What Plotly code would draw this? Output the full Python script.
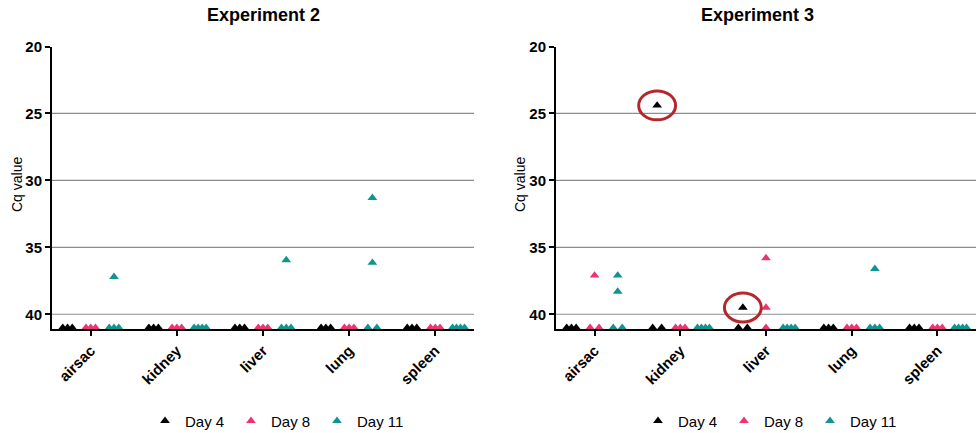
import plotly.graph_objects as go

# ---------------- data ----------------
tissues = ["airsac", "kidney", "liver", "lung", "spleen"]
days = ["Day 4", "Day 8", "Day 11"]

# Experiment 2 (non-detected samples plotted at 41)
exp2_day4 = [[41, 41, 41], [41, 41, 41], [41, 41, 41], [41, 41, 41], [41, 41, 41]]
exp2_day8 = [[41, 41, 41], [41, 41, 41], [41, 41, 41], [41, 41, 41], [41, 41, 41]]
exp2_day11 = [[37.2, 41, 41, 41], [41, 41, 41, 41], [35.95, 41, 41, 41],
              [31.3, 36.15, 41, 41], [41, 41, 41, 41]]

# Experiment 3
exp3_day4 = [[41, 41, 41], [24.4, 41, 41], [39.5, 41, 41], [41, 41, 41], [41, 41, 41]]
exp3_day8 = [[37.1, 41, 41], [41, 41, 41], [35.8, 39.5, 41], [41, 41, 41], [41, 41, 41]]
exp3_day11 = [[37.1, 38.3, 41, 41], [41, 41, 41, 41], [41, 41, 41, 41],
              [36.6, 41, 41, 41], [41, 41, 41, 41]]

y_ticks = [20, 25, 30, 35, 40]
grid_vals = [25, 30, 35, 40]

# highlighted points in Experiment 3: (tissue index, day index, value)
highlights = [(1, 0, 24.4), (2, 0, 39.5)]

# ---------------- style ----------------
colors = ["#000000", "#EC3475", "#0E958F"]
FONT = "Liberation Sans"
W, H = 978, 433
PX_PER_UNIT = 86.0
day_offset = [-0.27, 0.0, 0.27]
spread_px = {1: 0, 2: 9, 3: 9.5, 4: 12}

x_dom = [[52 / W, 474 / W], [556 / W, 976 / W]]
y_dom = [1 - 329 / H, 1 - 46.5 / H]


def positions(values, center):
    xs = []
    groups = {}
    for v in values:
        groups.setdefault(v, 0)
        groups[v] += 1
    seen = {}
    for v in values:
        n = groups[v]
        k = seen.get(v, 0)
        seen[v] = k + 1
        width = spread_px.get(n, 12) / PX_PER_UNIT
        off = 0 if n == 1 else -width / 2 + k * width / (n - 1)
        xs.append(center + off)
    return xs


fig = go.Figure()
experiments = [(exp2_day4, exp2_day8, exp2_day11), (exp3_day4, exp3_day8, exp3_day11)]
for p, exp in enumerate(experiments):
    xa = "x" if p == 0 else "x2"
    ya = "y" if p == 0 else "y2"
    leg = "legend" if p == 0 else "legend2"
    for d, series in enumerate(exp):
        xs, ys = [], []
        for t, vals in enumerate(series):
            xs += positions(vals, t + day_offset[d])
            ys += vals
        fig.add_trace(go.Scatter(
            x=xs, y=ys, mode="markers", name=days[d],
            marker=dict(symbol="triangle-up", size=8.5, color=colors[d], line=dict(width=0)),
            xaxis=xa, yaxis=ya, legend=leg, cliponaxis=False,
        ))

shapes = []
for p in range(2):
    sfx = "" if p == 0 else "2"
    for v in grid_vals:
        shapes.append(dict(type="line", xref="x" + sfx + " domain", x0=0, x1=1,
                           yref="y" + sfx, y0=v, y1=v,
                           line=dict(color="#8c8c8c", width=1.2), layer="below"))

rx = 18.5 / PX_PER_UNIT
ry = 1.08
for t, d, v in highlights:
    cx = t + day_offset[d]
    shapes.append(dict(type="circle", xref="x2", yref="y2",
                       x0=cx - rx, x1=cx + rx, y0=v - ry, y1=v + ry,
                       line=dict(color="#B3282D", width=3)))

axis_common_x = dict(
    range=[-0.45, 4.45], tickvals=list(range(len(tissues))), ticktext=tissues,
    tickangle=-45, ticks="outside", ticklen=5, tickwidth=1.5, tickcolor="black",
    showline=True, linecolor="black", linewidth=2, showgrid=False, zeroline=False,
    tickfont=dict(family=FONT, size=15, color="black", weight="bold"),
)
axis_common_y = dict(
    range=[41.1, 20], tickvals=y_ticks, ticks="outside", ticklen=5, tickwidth=2,
    tickcolor="black", showline=True, linecolor="black", linewidth=2,
    showgrid=False, zeroline=False,
    tickfont=dict(family=FONT, size=15, color="black", weight="bold"),
    domain=y_dom,
)

legend_common = dict(orientation="h", yanchor="middle", y=1 - 421 / H,
                     xanchor="left", font=dict(family=FONT, size=15, color="black"),
                     bgcolor="rgba(0,0,0,0)", entrywidthmode="pixels", entrywidth=41,
                     itemwidth=30, tracegroupgap=0)

annotations = [
    dict(text="<b>Experiment 2</b>", x=263 / W, y=1 - 15 / H, xref="paper", yref="paper",
         showarrow=False, font=dict(family=FONT, size=18, color="black"),
         xanchor="center", yanchor="middle"),
    dict(text="<b>Experiment 3</b>", x=757 / W, y=1 - 15 / H, xref="paper", yref="paper",
         showarrow=False, font=dict(family=FONT, size=18, color="black"),
         xanchor="center", yanchor="middle"),
    dict(text="Cq value", x=17 / W, y=1 - 185 / H, xref="paper", yref="paper",
         showarrow=False, textangle=-90, font=dict(family=FONT, size=14, color="black"),
         xanchor="center", yanchor="middle"),
    dict(text="Cq value", x=520 / W, y=1 - 185 / H, xref="paper", yref="paper",
         showarrow=False, textangle=-90, font=dict(family=FONT, size=14, color="black"),
         xanchor="center", yanchor="middle"),
]

fig.update_layout(
    width=W, height=H, margin=dict(l=0, r=0, t=0, b=0, autoexpand=False),
    paper_bgcolor="white", plot_bgcolor="white",
    font=dict(family=FONT, color="black"),
    xaxis=dict(axis_common_x, domain=x_dom[0], anchor="y"),
    yaxis=dict(axis_common_y, anchor="x"),
    xaxis2=dict(axis_common_x, domain=x_dom[1], anchor="y2"),
    yaxis2=dict(axis_common_y, anchor="x2"),
    legend=dict(legend_common, x=145 / W),
    legend2=dict(legend_common, x=638 / W),
    shapes=shapes, annotations=annotations,
)

fig.write_html("out.html")
